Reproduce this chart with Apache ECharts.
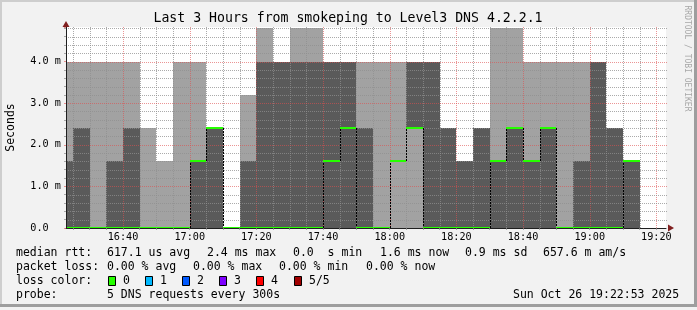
<!DOCTYPE html>
<html><head><meta charset="utf-8">
<script src="https://cdn.jsdelivr.net/npm/echarts@6/dist/echarts.min.js"></script>
<style>html,body{margin:0;padding:0;background:#f2f2f2}#c{width:697px;height:310px}</style>
</head><body><div id="c"></div>
<script>
// ---------------- data ----------------
const chartTitle = 'Last 3 Hours from smokeping to Level3 DNS 4.2.2.1';
const yAxisTitle = 'Seconds';
const watermark = 'RRDTOOL / TOBI OETIKER';
const graphStart = '16:22:53';
const graphEnd = '19:22:53';
// end time of each 5-minute bin
const binEnd = ['16:25','16:30','16:35','16:40','16:45','16:50','16:55','17:00','17:05','17:10',
  '17:15','17:20','17:25','17:30','17:35','17:40','17:45','17:50','17:55','18:00',
  '18:05','18:10','18:15','18:20','18:25','18:30','18:35','18:40','18:45','18:50',
  '18:55','19:00','19:05','19:10','19:15'];
// sorted pings per bin (ms)
const ping1 = [0,0,0,0,0,0,0,0,0,0, 0,0,0,0,0,0,0,0,0,0, 0,0,0,0,0,0,0,0,0,0, 0,0,0,0,0];
const ping2 = [0,0,0,0,0,0,0,0,0,0, 0,0,0,0,0,0,0,0,0,0, 1.6,2.4,0,0,0,0,0,0,0,0, 0,0,0,0,0];
const median = [0,0,0,0,0,0,0,0,1.6,2.4, 0,0,0,0,0,0,1.6,2.4,0,0, 1.6,2.4,0,0,0,0,1.6,2.4,1.6,2.4, 0,0,0,0,1.6];
const ping4 = [1.6,2.4,0,1.6,2.4,0,0,0,1.6,2.4, 0,1.6,4.0,4.0,4.0,4.0,4.0,4.0,2.4,0, 1.6,4.0,4.0,2.4,1.6,2.4,1.6,2.4,1.6,2.4, 0,1.6,4.0,2.4,1.6];
const ping5 = [4.0,4.0,4.0,4.0,4.0,2.4,1.6,4.0,4.0,2.4, 0,3.2,4.8,4.0,4.8,4.8,4.0,4.0,4.0,4.0, 4.0,4.0,4.0,2.4,1.6,2.4,4.8,4.8,4.0,4.0, 4.0,4.0,4.0,2.4,1.6];
const timeLabels = ['16:40','17:00','17:20','17:40','18:00','18:20','18:40','19:00','19:20'];
const yTickLabels = ['0.0','1.0 m','2.0 m','3.0 m','4.0 m'];
const yMax = 4.83;
const lossColors = ['#26ff00','#00b8ff','#0059ff','#7e00ff','#ff0000','#a10000'];
const lossLabels = ['0','1','2','3','4','5/5'];
const legendRow1 = ['median rtt:','617.1 us avg','2.4 ms max','0.0  s min','1.6 ms now','0.9 ms sd','657.6 m am/s'];
const legendRow2 = ['packet loss:','0.00 % avg','0.00 % max','0.00 % min','0.00 % now'];
const legendRow3 = ['loss color:'];
const legendRow4 = ['probe:','5 DNS requests every 300s','Sun Oct 26 19:22:53 2025'];

// ---------------- layout / style ----------------
const row1X = [16,107,207,293,380,465,543];
const row2X = [16,107,193,279,366];
const row3X = [16];
const row4X = [16,107,513];
const rowY = [253.5,267.5,281.5,295.5];
const MONO = '"DejaVu Sans Mono", monospace';
const LIGHT = '#a2a2a2', DARK = '#5a5a5a';
const GRIDC = 'rgba(143,143,143,0.75)', MGRIDC = 'rgba(222,79,79,0.6)';
const AXISC = '#1f1f1f', ARROWC = '#801f1f';

const toMin = s => { const p = s.split(':').map(Number); return p[0]*60 + p[1] + (p[2]||0)/60; };
const startMin = toMin(graphStart), endMin = toMin(graphEnd);
const fmtTime = v => { const h = Math.floor(v/60), m = Math.round(v - h*60); return h + ':' + String(m).padStart(2,'0'); };

const smokeData = binEnd.map((e,i) => [i ? toMin(binEnd[i-1]) : startMin, toMin(e), ping1[i], ping2[i], median[i], ping4[i], ping5[i]]);

// grid lines (rrdtool style)
const gridLines = [];
for (let t = Math.ceil(startMin/5)*5; t <= endMin; t += 5) gridLines.push({d:'v', v:t, major: t % 20 === 0});
for (let k = 1; k*0.2 <= yMax + 1e-9; k++) gridLines.push({d:'h', v:+(k*0.2).toFixed(1), major: k % 5 === 0});
const minorTickVals = gridLines.filter(g => g.d === 'v').map(g => g.v);

const chart = echarts.init(document.getElementById('c'), null, {renderer:'canvas'});

const graphics = [];
// frame shading
graphics.push({type:'rect', shape:{x:0,y:0,width:696,height:2}, style:{fill:'#cecece'}, silent:true});
graphics.push({type:'rect', shape:{x:0,y:0,width:2,height:307}, style:{fill:'#cecece'}, silent:true});
graphics.push({type:'rect', shape:{x:0,y:304,width:697,height:3}, style:{fill:'#9e9e9e'}, silent:true});
graphics.push({type:'rect', shape:{x:694,y:0,width:3,height:307}, style:{fill:'#9e9e9e'}, silent:true});
// title
graphics.push({type:'text', x:348, y:19, style:{text:chartTitle, font:'13.2px '+MONO, fill:'#000', align:'center', verticalAlign:'middle'}});
graphics.push({type:'text', x:11, y:127.5, rotation:Math.PI/2, style:{text:yAxisTitle, font:'11.5px '+MONO, fill:'#000', align:'center', verticalAlign:'middle'}});
graphics.push({type:'text', x:687.5, y:58.5, rotation:-Math.PI/2, style:{text:watermark, font:'8px '+MONO, fill:'#a8a8a8', align:'center', verticalAlign:'middle'}});
// legend rows
[[legendRow1,row1X],[legendRow2,row2X],[legendRow3,row3X],[legendRow4,row4X]].forEach(([txts,xs],r) => {
  txts.forEach((t,i) => graphics.push({type:'text', x:xs[i], y:rowY[r], style:{text:t, font:'11.5px '+MONO, fill:'#000', align:'left', verticalAlign:'middle'}}));
});
lossColors.forEach((c,i) => {
  const bx = 108 + i*37.1;
  graphics.push({type:'rect', shape:{x:Math.round(bx)+0.5, y:276.5, width:7, height:9}, style:{fill:c, stroke:'#000', lineWidth:1}});
  graphics.push({type:'text', x:Math.round(bx)+15, y:rowY[2], style:{text:lossLabels[i], font:'11.5px '+MONO, fill:'#000', align:'left', verticalAlign:'middle'}});
});

const option = {
  animation:false,
  backgroundColor:'#f2f2f2',
  grid:{left:66, top:27, width:600, height:201, show:true, backgroundColor:'#ffffff', borderWidth:0},
  xAxis:[{
    type:'value', min:startMin, max:endMin, z:10,
    axisLine:{show:true, onZero:false, lineStyle:{color:AXISC, width:1}},
    axisTick:{show:true, customValues:minorTickVals, length:2, lineStyle:{color:GRIDC}},
    splitLine:{show:false},
    axisLabel:{customValues:timeLabels.map(toMin), formatter:v => fmtTime(v), fontFamily:MONO, fontSize:10.2, color:'#000', margin:4}
  },{
    type:'value', min:startMin, max:endMin, z:11, position:'bottom',
    axisLine:{show:true, onZero:false, symbol:['none','triangle'], symbolSize:[7,6], symbolOffset:[0,5], lineStyle:{color:ARROWC, width:0}},
    axisTick:{show:false}, axisLabel:{show:false}, splitLine:{show:false}
  }],
  yAxis:[{
    type:'value', min:0, max:yMax, interval:1, z:10,
    axisLine:{show:true, onZero:false, lineStyle:{color:AXISC, width:1}},
    axisTick:{show:true, length:2, lineStyle:{color:MGRIDC}},
    minorTick:{show:true, splitNumber:5, length:2, lineStyle:{color:GRIDC}},
    splitLine:{show:false},
    axisLabel:{formatter:v => { const r = Math.round(v); if (Math.abs(v-r) > 1e-6 || !yTickLabels[r]) return ''; return yTickLabels[r].padEnd(5,' '); },
      fontFamily:MONO, fontSize:10.2, color:'#000', margin:5}
  },{
    type:'value', min:0, max:yMax, z:11, position:'left',
    axisLine:{show:true, onZero:false, symbol:['none','triangle'], symbolSize:[7,6], symbolOffset:[0,3], lineStyle:{color:ARROWC, width:0}},
    axisTick:{show:false}, axisLabel:{show:false}, splitLine:{show:false}
  }],
  series:[{
    type:'custom', name:'smoke', z:1, data:smokeData,
    encode:{x:[0,1], y:[2,6]},
    renderItem:(params, api) => {
      const X = v => Math.round(api.coord([v, 0])[0]);
      const Y = v => Math.round(api.coord([api.value(0), v])[1]);
      const x0 = X(api.value(0)), x1 = X(api.value(1));
      const p1 = api.value(2), p2 = api.value(3), p4 = api.value(5), p5 = api.value(6);
      return {type:'group', children:[
        {type:'rect', shape:{x:x0, y:Y(p5), width:x1-x0, height:Y(p1)-Y(p5)}, style:{fill:LIGHT}},
        {type:'rect', shape:{x:x0, y:Y(p4), width:x1-x0, height:Y(p2)-Y(p4)}, style:{fill:DARK}}
      ]};
    }
  },{
    type:'custom', name:'grid', z:2, silent:true,
    data:gridLines.map(g => g.d === 'v' ? [g.v, 0] : [startMin, g.v]),
    encode:{x:0, y:1},
    renderItem:(params, api) => {
      const g = gridLines[params.dataIndex];
      const cs = params.coordSys;
      const st = {stroke: g.major ? MGRIDC : GRIDC, lineWidth:1, lineDash:[1,1]};
      if (g.d === 'v') {
        const x = Math.round(api.coord([g.v, 0])[0]) + 0.5;
        return {type:'line', shape:{x1:x, y1:cs.y, x2:x, y2:cs.y+cs.height}, style:st};
      }
      const y = Math.round(api.coord([startMin, g.v])[1]) + 0.5;
      return {type:'line', shape:{x1:cs.x, y1:y, x2:cs.x+cs.width+2, y2:y}, style:st};
    }
  },{
    type:'custom', name:'median', z:3, data:smokeData,
    encode:{x:[0,1], y:4},
    renderItem:(params, api) => {
      const i = params.dataIndex;
      const X = v => Math.round(api.coord([v, 0])[0]);
      const Y = v => Math.round(api.coord([api.value(0), v])[1]);
      const x0 = X(api.value(0)), x1 = X(api.value(1));
      const m = api.value(4);
      const children = [];
      if (i > 0 && median[i-1] !== m) {
        children.push({type:'line', shape:{x1:x0+0.5, y1:Y(median[i-1]), x2:x0+0.5, y2:Y(m)}, style:{stroke:'#000', lineWidth:1, lineDash:[2,1]}});
      }
      children.push({type:'rect', shape:{x:x0, y:Y(m)-1, width:x1-x0, height:2}, style:{fill:lossColors[0]}});
      return {type:'group', children};
    }
  }],
  graphic:{elements:graphics}
};
chart.setOption(option);
</script></body></html>
